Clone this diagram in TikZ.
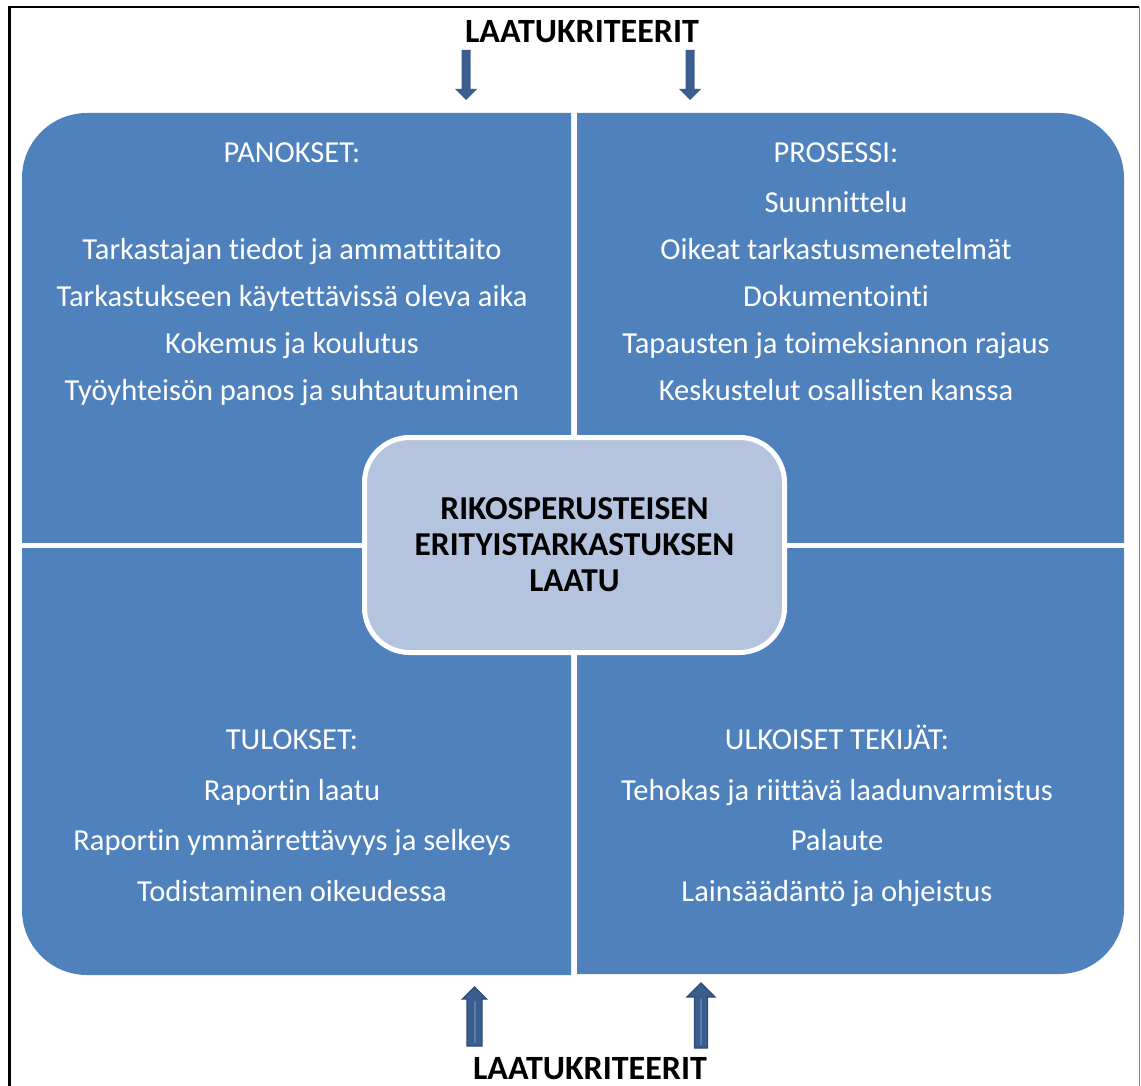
\documentclass[tikz,border=0pt]{standalone}
\usepackage{fontspec}
\setmainfont{Carlito}[Ligatures=NoCommon]
\usetikzlibrary{positioning}

\definecolor{quadblue}{RGB}{79,129,189}
\definecolor{coreblue}{RGB}{180,196,222}
\definecolor{arrowblue}{RGB}{59,94,143}
\definecolor{arrowedge}{RGB}{44,74,114}
\definecolor{arrowlight}{RGB}{88,124,176}

\tikzset {
  % one of the four blue fields
  quad/.style = {
    fill = quadblue,
    rounded corners = 65pt
  },
  % text line inside a field
  item/.style = {
    anchor = base,
    text = white,
    inner sep = 0,
    font = \fontsize{30.5}{36}\selectfont
  },
  % bold label above and below
  crit/.style = {
    anchor = base,
    inner sep = 0,
    font = \bfseries\fontsize{34}{38}\selectfont
  },
  % centre box
  core/.style = {
    draw = white,
    line width = 5pt,
    fill = coreblue,
    rounded corners = 45pt,
    minimum width = 420pt,
    minimum height = 215pt,
    align = center,
    font = \bfseries\fontsize{33.4}{36}\selectfont
  },
  downarrow/.style = {
    fill = arrowblue
  },
  uparrow/.style = {
    fill = arrowblue,
    draw = arrowedge,
    line width = 1.2pt
  },
  stripe/.style = {
    draw = arrowlight,
    line width = 2pt
  }
}

\begin{document}
\begin{tikzpicture}[x=1pt, y=-1pt]
    \useasboundingbox (0,0) rectangle (1141,1086);

    % frame
    \draw[black, line width = 2.5pt] (9.5,1086) -- (9.5,7) -- (1139,7);
    \draw[gray, line width = 1.5pt] (1139.5,7) -- (1139.5,1086);

    % fields
    \begin{scope}
      \clip (22,113) rectangle (571,542);
      \fill[quad] (22,113) rectangle (700,700);
    \end{scope}
    \begin{scope}
      \clip (577,113) rectangle (1124,542);
      \fill[quad] (400,113) rectangle (1124,700);
    \end{scope}
    \begin{scope}
      \clip (22,548) rectangle (571,975);
      \fill[quad] (22,300) rectangle (700,975);
    \end{scope}
    \begin{scope}
      \clip (577,548) rectangle (1124,974);
      \fill[quad] (400,300) rectangle (1124,974);
    \end{scope}

    \node[crit] (topcrit) at (582,42.7) {LAATUKRITEERIT};
    \node[crit] (botcrit) at (590,1079.3) {LAATUKRITEERIT};

    % arrows
    \fill[downarrow] (461.5,50) -- (470.5,50) -- (470.5,89) -- (477,89)
    -- (466,100) -- (455,89) -- (461.5,89) -- cycle;
    \fill[downarrow] (685.5,50) -- (694.5,50) -- (694.5,89) -- (701,89)
    -- (690,100) -- (679,89) -- (685.5,89) -- cycle;
    \filldraw[uparrow] (467,1046) -- (482,1046) -- (482,999) -- (486.5,999)
    -- (474.5,987) -- (462.5,999) -- (467,999) -- cycle;
    \filldraw[uparrow] (694.5,1048) -- (707.5,1048) -- (707.5,997) -- (715,997)
    -- (701,983) -- (687,997) -- (694.5,997) -- cycle;
    \path[stripe] (474.5,1001) -- (474.5,1043);
    \path[stripe] (701,999) -- (701,1045);

    % texts
    \node[item] (panokset) at (292,163) {PANOKSET:};
    \foreach \txt [count=\i] in {Tarkastajan tiedot ja ammattitaito,
      Tarkastukseen käytettävissä oleva aika, Kokemus ja koulutus,
      Työyhteisön panos ja suhtautuminen}
      \node[item] (panos\i) at (292,{259.3+47.1*(\i-1)}) {\txt};

    \node[item] (prosessi) at (836,163) {PROSESSI:};
    \foreach \txt [count=\i] in {Suunnittelu, Oikeat tarkastusmenetelmät,
      Dokumentointi, Tapausten ja toimeksiannon rajaus,
      Keskustelut osallisten kanssa}
      \node[item] (vaihe\i) at (836,{212.7+47*(\i-1)}) {\txt};

    \node[item] (tulokset) at (292,749.3) {TULOKSET:};
    \foreach \txt [count=\i] in {Raportin laatu,
      Raportin ymmärrettävyys ja selkeys, Todistaminen oikeudessa}
      \node[item] (tulos\i) at (292,{800+50.8*(\i-1)}) {\txt};

    \node[item] (ulkoiset) at (837,749.3) {ULKOISET TEKIJÄT:};
    \foreach \txt [count=\i] in {Tehokas ja riittävä laadunvarmistus,
      Palaute, Lainsäädäntö ja ohjeistus}
      \node[item] (tekija\i) at (837,{800+50.8*(\i-1)}) {\txt};

    \node[core] (core) at (574.5,545)
    {RIKOSPERUSTEISEN\\ERITYISTARKASTUKSEN\\LAATU};
  \end{tikzpicture}
\end{document}
